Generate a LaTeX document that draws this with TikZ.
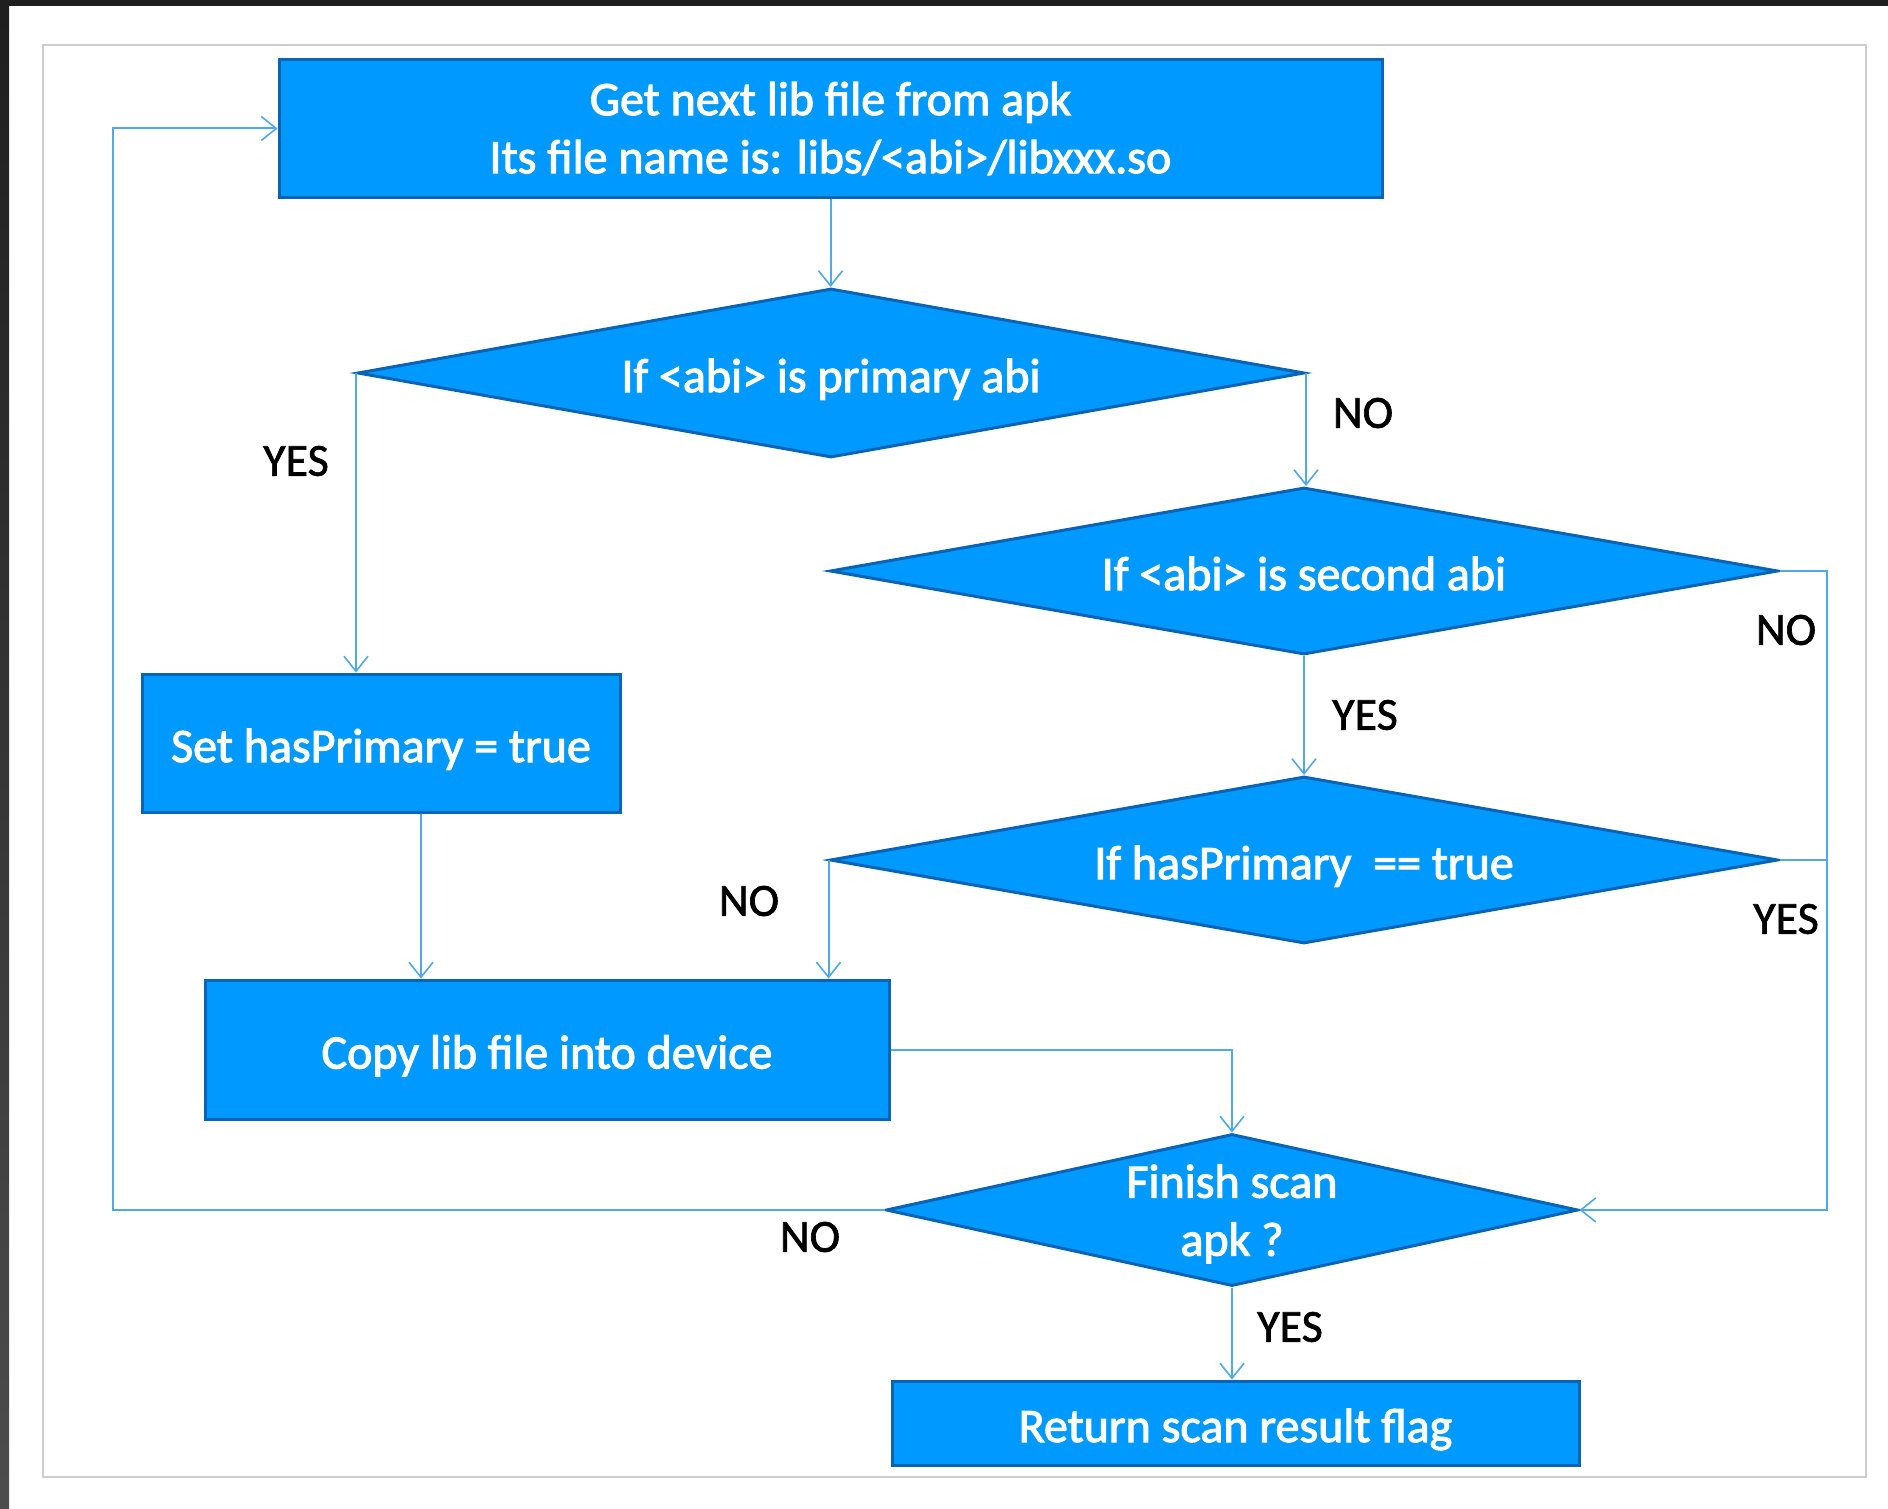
\documentclass[tikz,border=0pt]{standalone}
\usepackage{fontspec}
\setmainfont{Carlito}
\newfontfamily\boxfont{Carlito}[FakeBold=2.2]
\newfontfamily\lblfont{Carlito}[FakeBold=1.4]
\usetikzlibrary{shapes.geometric,arrows.meta}
\definecolor{boxfill}{RGB}{0,153,255}
\definecolor{boxedge}{RGB}{10,100,182}
\definecolor{conncol}{RGB}{80,168,230}
\definecolor{framecol}{RGB}{205,205,205}
\tikzset{
  procbox/.style={rectangle, fill=boxfill, draw=boxedge, line width=3pt,
    text=white, align=center, inner sep=0pt, text height=38pt, text depth=0pt,
    font=\boxfont\fontsize{48}{58}\selectfont},
  decision/.style={diamond, fill=boxfill, draw=boxedge, line width=3pt,
    text=white, align=center, inner sep=0pt, shape aspect=5.6,
    text height=38pt, text depth=0pt,
    font=\boxfont\fontsize{48}{58}\selectfont},
  twoline/.style={text height=, text depth=-4pt},
  conn/.style={draw=conncol, line width=2pt},
  arr/.style={conn, -{Straight Barb[length=15pt,width=24pt,line width=1.6pt]}},
  lbl/.style={text=black, inner sep=0pt, font=\lblfont\fontsize{46}{55}\selectfont}
}
\begin{document}
\begin{tikzpicture}[x=1pt,y=-1pt]
\useasboundingbox (0,0) rectangle (1888,1509);
\fill[white] (0,0) rectangle (1888,1509);
% outer screenshot border
\fill[black!88] (0,0) rectangle (1888,6);
\shade[top color=black!88, bottom color=black!70] (0,0) rectangle (9,1509);
% inner frame
\draw[framecol, line width=2pt] (43,45) rectangle (1866,1477);

% nodes
\node[procbox, text height=, text depth=, minimum width=1103pt, minimum height=137pt] (top) at (830.5,128.5)
  {Get next lib file from apk\\Its file name is: libs/<abi>/libxxx.so};
\node[decision, minimum width=947pt, minimum height=169pt] (d1) at (831,373)
  {If <abi> is primary abi};
\node[decision, minimum width=948pt, minimum height=167pt] (d2) at (1304,571)
  {If <abi> is second abi};
\node[decision, minimum width=948pt, minimum height=167pt] (d3) at (1304,860)
  {If hasPrimary\ \ == true};
\node[procbox, minimum width=478pt, minimum height=138pt] (set) at (381,743)
  {Set hasPrimary = true};
\node[procbox, minimum width=684pt, minimum height=139pt] (copy) at (547,1049.5)
  {Copy lib file into device};
\node[decision, twoline, minimum width=692pt, minimum height=152pt, shape aspect=4.5] (fin) at (1232,1210)
  {Finish scan\\apk ?};
\node[procbox, minimum width=687pt, minimum height=84pt] (ret) at (1235.5,1423)
  {Return scan result flag};

% helper coordinates
\coordinate (rx) at (1827,0);
\coordinate (lp) at (113,1210);

% connectors
\draw[arr] (top.south) -- (top.south |- d1.north);
\draw[arr] (d1.west) -- (d1.west |- set.north);
\draw[arr] (d1.east) -- (d1.east |- d2.north);
\draw[arr] (d2.south) -- (d3.north);
\draw[arr] (d2.east) -- (d2.east -| rx) |- (fin.east);
\draw[conn] (d3.east) -- (d3.east -| rx);
\draw[arr] (d3.west) -- (d3.west |- copy.north);
\draw[arr] ([xshift=40pt]set.south) -- ([xshift=40pt]set.south |- copy.north);
\draw[arr] (copy.east) -| (fin.north);
\draw[arr] (fin.west) -- (lp) |- (top.west);
\draw[arr] (fin.south) -- (fin.south |- ret.north);

% labels
\node[lbl] (l1) at (296,461) {YES};
\node[lbl] (l2) at (1363,413) {NO};
\node[lbl] (l3) at (1786,630) {NO};
\node[lbl] (l4) at (1365,715) {YES};
\node[lbl] (l5) at (1786,919) {YES};
\node[lbl] (l6) at (749,901) {NO};
\node[lbl] (l7) at (810,1237) {NO};
\node[lbl] (l8) at (1290,1327) {YES};
\end{tikzpicture}
\end{document}
